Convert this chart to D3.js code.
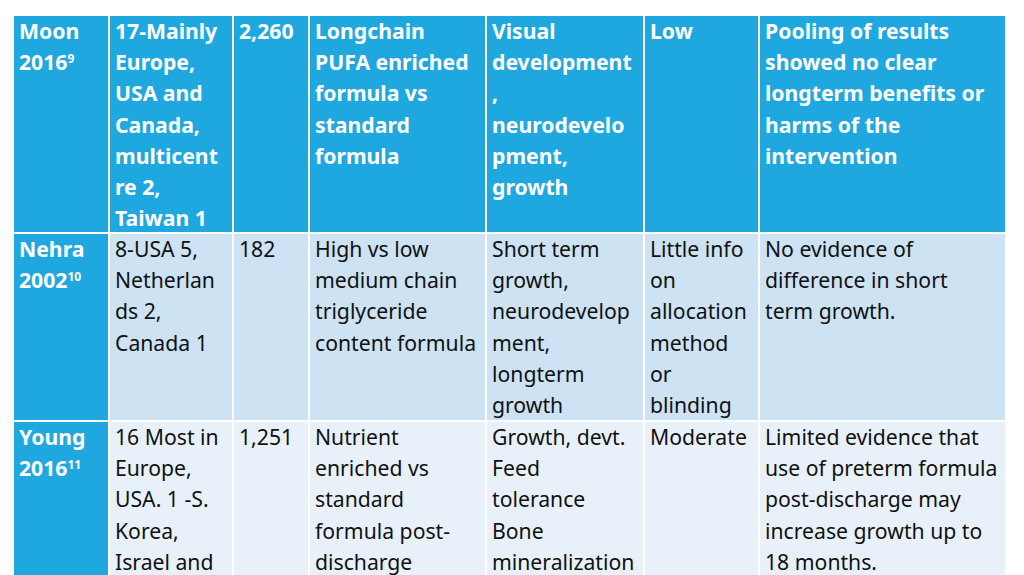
<!DOCTYPE html>
<html><head><meta charset="utf-8">
<script src="https://cdn.jsdelivr.net/npm/d3@7"></script>
<style>body{margin:0;background:#fff}svg{display:block}</style></head>
<body><svg id="c" width="1024" height="575"></svg>
<script>
const colEdges = [13, 109, 233, 309, 486, 644, 759, 1006];
const rowEdges = [15, 233, 421, 640];
const rowFills = ["#1fa8e0", "#cde2f3", "#e8f1f9"];
const studies = [["Moon","2016","9"],["Nehra","2002","10"],["Young","2016","11"]];
const rowCells = [
 [["17-Mainly","Europe,","USA and","Canada,","multicent","re 2,","Taiwan 1"],["2,260"],["Longchain","PUFA enriched","formula vs","standard","formula"],["Visual","development",",","neurodevelo","pment,","growth"],["Low"],["Pooling of results","showed no clear","longterm benefits or","harms of the","intervention"]],
 [["8-USA 5,","Netherlan","ds 2,","Canada 1"],["182"],["High vs low","medium chain","triglyceride","content formula"],["Short term","growth,","neurodevelop","ment,","longterm","growth"],["Little info","on","allocation","method","or","blinding"],["No evidence of","difference in short","term growth."]],
 [["16 Most in","Europe,","USA. 1 -S.","Korea,","Israel and"],["1,251"],["Nutrient","enriched vs","standard","formula post-","discharge"],["Growth, devt.","Feed","tolerance","Bone","mineralization"],["Moderate"],["Limited evidence that","use of preterm formula","post-discharge may","increase growth up to","18 months."]]
];
const svg = d3.select("#c");
const font = "'Noto Sans','Open Sans',sans-serif";
const lineY = d3.scaleLinear().domain([0,1]).range([0,31.2]);
rowCells.forEach((cells, r) => {
  const y0 = rowEdges[r], y1 = rowEdges[r+1];
  for (let c = 0; c < 7; c++) {
    const fill = (r === 0 || c === 0) ? "#1fa8e0" : rowFills[r];
    svg.append("rect").attr("x", colEdges[c]).attr("y", y0)
      .attr("width", colEdges[c+1]-colEdges[c]).attr("height", y1-y0)
      .attr("fill", fill).attr("stroke", "#fff").attr("stroke-width", 2);
    const white = r === 0 || c === 0;
    const lines = c === 0 ? null : cells[c-1];
    const g = svg.append("g").attr("font-family", font).attr("font-size", 21.2)
      .attr("fill", white ? "#fff" : "#111").attr("font-weight", white ? 700 : 400);
    if (c === 0) {
      const s = studies[r];
      g.append("text").attr("x", colEdges[0]+6).attr("y", y0+24).text(s[0]);
      const t = g.append("text").attr("x", colEdges[0]+6).attr("y", y0+24+lineY(1));
      t.append("tspan").text(s[1]);
      t.append("tspan").attr("font-size", 12).attr("dy", -7).text(s[2]);
    } else {
      g.selectAll("text").data(lines).join("text")
        .attr("x", colEdges[c]+6).attr("y", (d,i) => y0+24+lineY(i)).text(d => d);
    }
  }
});
</script></body></html>
